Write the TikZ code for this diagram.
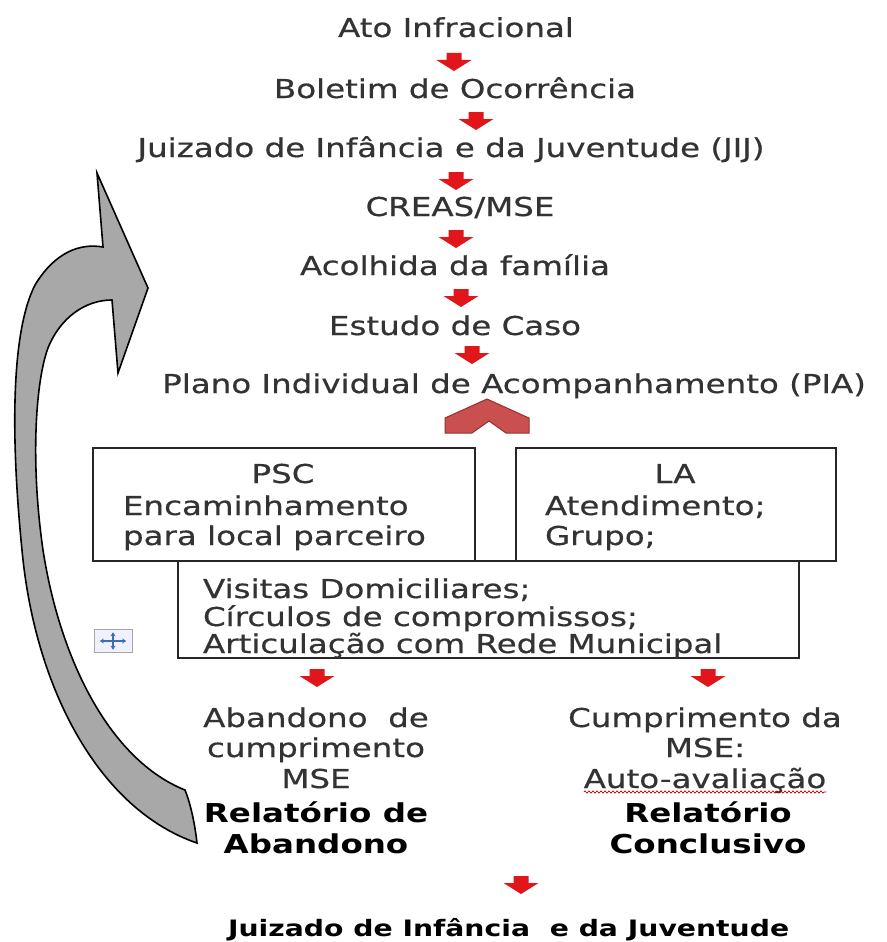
\documentclass[tikz,border=0pt]{standalone}
\usepackage{fontspec}
\setmainfont{DejaVu Sans}[FakeStretch=1.25]
\newfontfamily\regfont{DejaVu Sans}[FakeStretch=1.25, FakeBold=0.5]
\usetikzlibrary{decorations.pathmorphing,arrows.meta}
\definecolor{txt}{HTML}{333333}
\definecolor{arrred}{HTML}{E0161B}
\definecolor{chevfill}{HTML}{C9504E}
\definecolor{chevline}{HTML}{8E3331}
\definecolor{bigarrow}{HTML}{A8A8A8}
\definecolor{iconblue}{HTML}{3B6DB3}
\begin{document}
\begin{tikzpicture}[x=1pt,y=-1pt,
  lbl/.style={inner sep=0pt, outer sep=0pt, text=txt, font=\regfont\fontsize{26}{30}\selectfont},
  bld/.style={inner sep=0pt, outer sep=0pt, text=black, font=\fontsize{26}{30}\selectfont\bfseries},
  ttl/.style={inner sep=0pt, outer sep=0pt, text=black, font=\fontsize{22.6}{27}\selectfont\bfseries},
  boxed/.style={draw=black!85, line width=1.8pt, fill=white, inner sep=0pt},
  redarr/.pic={\fill[arrred] (-7.5,-9) -- (7.5,-9) -- (7.5,-2) -- (17.5,-2) -- (0,9) -- (-17.5,-2) -- (-7.5,-2) -- cycle;}
]
\useasboundingbox[fill=white] (0,0) rectangle (886,942);

% top chain
\node[lbl, anchor=base] (ato) at (456,37) {Ato Infracional};
\node[lbl, anchor=base] (bol) at (455,98) {Boletim de Ocorrência};
\node[lbl, anchor=base] (jij) at (451,157) {Juizado de Infância e da Juventude (JIJ)};
\node[lbl, anchor=base] (creas) at (460,216) {CREAS/MSE};
\node[lbl, anchor=base] (acol) at (455,275) {Acolhida da família};
\node[lbl, anchor=base] (est) at (455,335) {Estudo de Caso};
\node[lbl, anchor=base] (pia) at (514,393) {Plano Individual de Acompanhamento (PIA)};

\pic at (454,62) {redarr};
\pic at (476,121) {redarr};
\pic at (456,181) {redarr};
\pic at (456,239) {redarr};
\pic at (461,298) {redarr};
\pic at (472,355) {redarr};

% chevron
\draw[chevline, fill=chevfill, line width=1pt, line join=miter]
  (445,418) -- (487,399) -- (529,418) -- (529,433) -- (506,433) -- (489,421) -- (472,433) -- (445,433) -- cycle;

% boxes
\node[boxed, minimum width=382pt, minimum height=113pt, anchor=north west] (psc) at (92,447) {};
\node[boxed, minimum width=320pt, minimum height=113pt, anchor=north west] (la) at (515,447) {};
\node[boxed, minimum width=621pt, minimum height=97pt, anchor=north west] (vis) at (177,560) {};

\node[lbl, anchor=base] (psct) at (283,483) {PSC};
\node[lbl, anchor=base west] (psc1) at (123,515) {Encaminhamento};
\node[lbl, anchor=base west] (psc2) at (123,545) {para local parceiro};

\node[lbl, anchor=base] (lat) at (675,483) {LA};
\node[lbl, anchor=base west] (la1) at (545,515) {Atendimento;};
\node[lbl, anchor=base west] (la2) at (545,545) {Grupo;};

\node[lbl, anchor=base west] (vis1) at (203,598) {Visitas Domiciliares;};
\node[lbl, anchor=base west] (vis2) at (203,626) {Círculos de compromissos;};
\node[lbl, anchor=base west] (vis3) at (203,653) {Articulação com Rede Municipal};

% icon
\node[draw=black!35, fill=blue!6, minimum width=38pt, minimum height=23pt, inner sep=0pt] (icon) at (113,641) {};
\draw[iconblue, line width=1.4pt, {Stealth[length=4pt,width=5pt]}-{Stealth[length=4pt,width=5pt]}] ([xshift=6pt]icon.west) -- ([xshift=-6pt]icon.east);
\draw[iconblue, line width=1.4pt, {Stealth[length=4pt,width=5pt]}-{Stealth[length=4pt,width=5pt]}] ([yshift=-3pt]icon.north) -- ([yshift=3pt]icon.south);

% lower arrows
\pic at (317,678) {redarr};
\pic at (708,678) {redarr};

% left column
\node[lbl, anchor=base] (ab1) at (316,727) {Abandono\ \ de};
\node[lbl, anchor=base] (ab2) at (316,757) {cumprimento};
\node[lbl, anchor=base] (ab3) at (316,788) {MSE};
\node[bld, anchor=base] (ab4) at (316,822) {Relatório de};
\node[bld, anchor=base] (ab5) at (316,853) {Abandono};

% right column
\node[lbl, anchor=base] (cu1) at (705,727) {Cumprimento da};
\node[lbl, anchor=base] (cu2) at (705,757) {MSE:};
\node[lbl, anchor=base] (cu3) at (705,788) {Auto-avaliação};
\draw[red!75!black, line width=0.7pt, decorate, decoration={snake, amplitude=1.1pt, segment length=4pt}]
  ([yshift=-4pt]cu3.base west) -- ([yshift=-4pt]cu3.base east);
\node[bld, anchor=base] (cu4) at (708,822) {Relatório};
\node[bld, anchor=base] (cu5) at (708,853) {Conclusivo};

\pic at (521,885) {redarr};
\node[ttl, anchor=base west] (final) at (228,936) {Juizado de Infância\ \ e da Juventude};

% big gray return arrow
\draw[black, line width=1.6pt, fill=bigarrow, line join=miter]
  (197,843) .. controls (100,810) and (35,690) .. (22,550)
  .. controls (10,430) and (12,330) .. (35,285)
  .. controls (55,252) and (80,243) .. (103,247)
  -- (97,173) -- (148,288) -- (118,373) -- (112,300)
  .. controls (85,300) and (60,318) .. (48,348)
  .. controls (36,380) and (30,460) .. (43,550)
  .. controls (60,660) and (110,760) .. (185,790)
  .. controls (191,805) and (195,825) .. cycle;
\end{tikzpicture}
\end{document}
